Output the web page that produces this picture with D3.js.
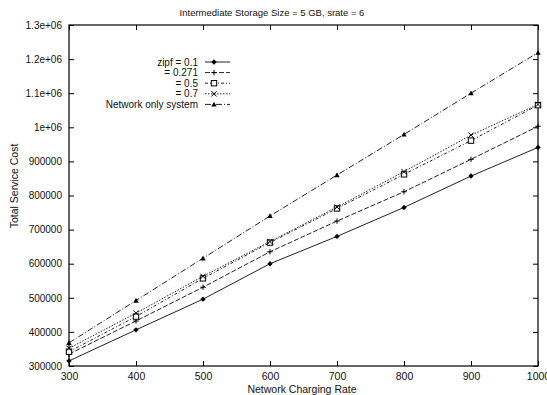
<!DOCTYPE html>
<html>
<head>
<meta charset="utf-8">
<script src="https://cdn.jsdelivr.net/npm/d3@7"></script>
<style>
  body { margin: 0; background: #fff; }
  text { font-family: "Liberation Sans", Arial, sans-serif; fill: #111; }
</style>
</head>
<body>
<div id="chart"></div>
<script>
// data
var rates = [300, 400, 500, 600, 700, 800, 900, 1000];
var zipf01  = [315000, 406000, 496000, 600000, 680000, 765000, 857000, 941000];
var zipf0271 = [335000, 432000, 531000, 635000, 725000, 811000, 906000, 1003000];
var zipf05  = [342000, 445000, 557000, 662000, 762000, 862000, 961000, 1065000];
var zipf07  = [352000, 455000, 563000, 665000, 766000, 870000, 977000, 1067000];
var networkOnly = [368000, 492000, 616000, 740000, 860000, 979000, 1100000, 1219000];
var seriesNames = ["zipf = 0.1", "= 0.271", "= 0.5", "= 0.7", "Network only system"];
var yTicks = [300000, 400000, 500000, 600000, 700000, 800000, 900000, 1000000, 1100000, 1200000, 1300000];
var yTickLabels = ["300000", "400000", "500000", "600000", "700000", "800000", "900000", "1e+06", "1.1e+06", "1.2e+06", "1.3e+06"];

var series = [
  {name: seriesNames[0], values: zipf01, dash: null, marker: "diamond"},
  {name: seriesNames[1], values: zipf0271, dash: "5,2", marker: "plus"},
  {name: seriesNames[2], values: zipf05, dash: "3,2,1,2", marker: "square"},
  {name: seriesNames[3], values: zipf07, dash: "1.5,1.5", marker: "cross"},
  {name: seriesNames[4], values: networkOnly, dash: "6,2,1,2", marker: "triangle"}
];

var W = 547, H = 395;
var margin = {top: 25, right: 9, bottom: 29, left: 69};
var width = W - margin.left - margin.right,
    height = H - margin.top - margin.bottom;

var svg = d3.select("#chart").append("svg")
    .attr("width", W)
    .attr("height", H);

var g = svg.append("g")
    .attr("transform", "translate(" + margin.left + "," + margin.top + ")");

var x = d3.scaleLinear().domain([300, 1000]).range([0, width]);
var y = d3.scaleLinear().domain([300000, 1300000]).range([height, 0]);

// frame
g.append("rect")
    .attr("width", width).attr("height", height)
    .attr("fill", "none").attr("stroke", "#000").attr("stroke-width", 1.2);

// ticks inward on all sides
var tl = 5;
g.append("g")
    .attr("transform", "translate(0," + height + ")")
    .call(d3.axisBottom(x).tickValues(rates).tickSize(-tl).tickPadding(7).tickFormat(d3.format("d")))
    .call(function(a) { a.select(".domain").remove(); a.selectAll("text").attr("font-size", 10.5); });
g.append("g")
    .call(d3.axisTop(x).tickValues(rates).tickSize(-tl).tickFormat(""))
    .call(function(a) { a.select(".domain").remove(); });
g.append("g")
    .call(d3.axisLeft(y).tickValues(yTicks).tickSize(-tl).tickPadding(7)
      .tickFormat(function(d, i) { return yTickLabels[i]; }))
    .call(function(a) { a.select(".domain").remove(); a.selectAll("text").attr("font-size", 10); });
g.append("g")
    .attr("transform", "translate(" + width + ",0)")
    .call(d3.axisRight(y).tickValues(yTicks).tickSize(-tl).tickFormat(""))
    .call(function(a) { a.select(".domain").remove(); });

// titles
svg.append("text")
    .attr("x", 272).attr("y", 16)
    .attr("text-anchor", "middle").attr("font-size", 9.5)
    .text("Intermediate Storage Size = 5 GB, srate = 6");
svg.append("text")
    .attr("x", 302).attr("y", 393)
    .attr("text-anchor", "middle").attr("font-size", 10.5)
    .text("Network Charging Rate");
svg.append("text")
    .attr("transform", "translate(18,186) rotate(-90)")
    .attr("text-anchor", "middle").attr("font-size", 10.5)
    .text("Total Service Cost");

function drawMarker(sel, type) {
  var s = 2.7;
  if (type === "diamond") {
    sel.append("path").attr("d", "M0,-" + s + "L" + s + ",0L0," + s + "L-" + s + ",0Z")
      .attr("fill", "#000");
  } else if (type === "plus") {
    sel.append("path").attr("d", "M-" + s + ",0H" + s + "M0,-" + s + "V" + s)
      .attr("stroke", "#000").attr("fill", "none");
  } else if (type === "square") {
    sel.append("rect").attr("x", -s).attr("y", -s).attr("width", 2 * s).attr("height", 2 * s)
      .attr("fill", "#fff").attr("stroke", "#000");
  } else if (type === "cross") {
    sel.append("path").attr("d", "M-" + s + ",-" + s + "L" + s + "," + s + "M-" + s + "," + s + "L" + s + ",-" + s)
      .attr("stroke", "#000").attr("fill", "none");
  } else if (type === "triangle") {
    sel.append("path").attr("d", "M0,-" + s + "L" + s + "," + (s * 0.8) + "L-" + s + "," + (s * 0.8) + "Z")
      .attr("fill", "#000");
  }
}

var line = d3.line()
    .x(function(d, i) { return x(rates[i]); })
    .y(function(d) { return y(d); });

series.forEach(function(s) {
  g.append("path")
      .datum(s.values)
      .attr("d", line)
      .attr("fill", "none")
      .attr("stroke", "#222")
      .attr("stroke-width", 1)
      .attr("stroke-dasharray", s.dash);
  s.values.forEach(function(v, i) {
    var m = g.append("g").attr("transform", "translate(" + x(rates[i]) + "," + y(v) + ")");
    drawMarker(m, s.marker);
  });
});

// legend
var legend = svg.append("g");
series.forEach(function(s, i) {
  var ly = 62 + i * 10.6;
  legend.append("text")
      .attr("x", 198).attr("y", ly + 3.5)
      .attr("text-anchor", "end").attr("font-size", 10)
      .text(s.name);
  legend.append("line")
      .attr("x1", 205).attr("x2", 230).attr("y1", ly).attr("y2", ly)
      .attr("stroke", "#222").attr("stroke-dasharray", s.dash);
  var m = legend.append("g").attr("transform", "translate(214," + ly + ")");
  drawMarker(m, s.marker);
});
</script>
</body>
</html>
